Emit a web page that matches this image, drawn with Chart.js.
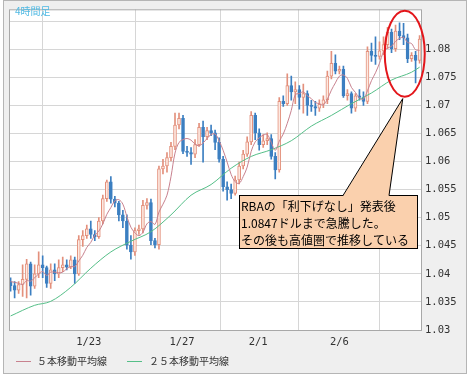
<!DOCTYPE html>
<html>
<head>
<meta charset="utf-8">
<script src="https://cdn.jsdelivr.net/npm/chart.js@4/dist/chart.umd.min.js"></script>
<style>
  html, body { margin: 0; padding: 0; background: #fff; }
  #wrap { width: 467px; height: 376px; }
</style>
</head>
<body>
<div id="wrap"><canvas id="c" width="467" height="376"></canvas></div>
<script>
/* ---------- Data (4-hour candles) ---------- */
var candleOpen = [
  1.0386,1.0379,1.0371,1.0381,1.0390,1.0418,1.0378,1.0400,1.0416,1.0411,
  1.0383,1.0407,1.0400,1.0411,1.0416,1.0412,1.0425,1.0400,1.0461,1.0468,
  1.0480,1.0470,1.0466,1.0494,1.0534,1.0564,1.0533,1.0526,1.0505,1.0494,
  1.0451,1.0439,1.0477,1.0480,1.0522,1.0527,1.0459,1.0452,1.0587,1.0592,
  1.0607,1.0627,1.0665,1.0677,1.0618,1.0616,1.0613,1.0630,1.0661,1.0644,
  1.0655,1.0651,1.0634,1.0604,1.0555,1.0550,1.0543,1.0567,1.0592,1.0613,
  1.0635,1.0682,1.0651,1.0630,1.0637,1.0641,1.0609,1.0585,1.0707,1.0703,
  1.0735,1.0724,1.0728,1.0714,1.0721,1.0700,1.0698,1.0695,1.0702,1.0710,
  1.0752,1.0775,1.0761,1.0764,1.0717,1.0721,1.0695,1.0717,1.0714,1.0707,
  1.0796,1.0789,1.0787,1.0797,1.0808,1.0830,1.0801,1.0832,1.0824,1.0820,
  1.0783,1.0789,1.0780
];
var candleClose = [
  1.0379,1.0371,1.0381,1.0390,1.0418,1.0378,1.0400,1.0416,1.0411,1.0383,
  1.0407,1.0400,1.0411,1.0416,1.0412,1.0425,1.0400,1.0461,1.0468,1.0480,
  1.0470,1.0466,1.0494,1.0534,1.0564,1.0533,1.0526,1.0505,1.0494,1.0451,
  1.0439,1.0477,1.0480,1.0522,1.0527,1.0459,1.0452,1.0587,1.0592,1.0607,
  1.0627,1.0665,1.0677,1.0618,1.0616,1.0613,1.0630,1.0661,1.0644,1.0655,
  1.0651,1.0634,1.0604,1.0555,1.0550,1.0543,1.0567,1.0592,1.0613,1.0635,
  1.0682,1.0651,1.0630,1.0637,1.0641,1.0609,1.0585,1.0707,1.0703,1.0735,
  1.0724,1.0728,1.0714,1.0721,1.0700,1.0698,1.0695,1.0702,1.0710,1.0752,
  1.0775,1.0761,1.0764,1.0717,1.0721,1.0695,1.0717,1.0714,1.0707,1.0796,
  1.0789,1.0787,1.0797,1.0808,1.0830,1.0801,1.0832,1.0824,1.0820,1.0783,
  1.0789,1.0780,1.0818
];
var candleHigh = [
  1.0393,1.0386,1.0386,1.0416,1.0426,1.0421,1.0416,1.0439,1.0432,1.0414,
  1.0418,1.0418,1.0425,1.0430,1.0425,1.0432,1.0430,1.0468,1.0477,1.0487,
  1.0494,1.0477,1.0500,1.0540,1.0567,1.0573,1.0538,1.0529,1.0513,1.0505,
  1.0468,1.0482,1.0487,1.0531,1.0534,1.0533,1.0463,1.0592,1.0604,1.0616,
  1.0634,1.0686,1.0686,1.0682,1.0627,1.0625,1.0639,1.0668,1.0672,1.0661,
  1.0665,1.0656,1.0642,1.0609,1.0564,1.0560,1.0574,1.0599,1.0620,1.0644,
  1.0689,1.0686,1.0658,1.0648,1.0651,1.0648,1.0616,1.0714,1.0717,1.0756,
  1.0752,1.0742,1.0735,1.0738,1.0726,1.0709,1.0707,1.0710,1.0717,1.0761,
  1.0796,1.0790,1.0770,1.0770,1.0728,1.0724,1.0721,1.0728,1.0724,1.0804,
  1.0811,1.0822,1.0813,1.0822,1.0839,1.0836,1.0843,1.0847,1.0846,1.0827,
  1.0794,1.0796,1.0824
];
var candleLow = [
  1.0369,1.0357,1.0365,1.0360,1.0357,1.0362,1.0374,1.0393,1.0393,1.0376,
  1.0374,1.0388,1.0393,1.0404,1.0407,1.0409,1.0383,1.0397,1.0449,1.0463,
  1.0463,1.0459,1.0463,1.0489,1.0529,1.0526,1.0519,1.0494,1.0482,1.0444,
  1.0426,1.0433,1.0470,1.0473,1.0515,1.0452,1.0446,1.0444,1.0578,1.0581,
  1.0601,1.0621,1.0658,1.0614,1.0609,1.0595,1.0607,1.0627,1.0599,1.0639,
  1.0646,1.0621,1.0599,1.0547,1.0531,1.0534,1.0540,1.0560,1.0587,1.0609,
  1.0630,1.0639,1.0620,1.0625,1.0630,1.0604,1.0569,1.0581,1.0698,1.0700,
  1.0709,1.0703,1.0693,1.0686,1.0682,1.0689,1.0682,1.0689,1.0696,1.0703,
  1.0747,1.0756,1.0756,1.0714,1.0709,1.0686,1.0689,1.0709,1.0700,1.0703,
  1.0778,1.0773,1.0782,1.0790,1.0801,1.0794,1.0796,1.0817,1.0808,1.0776,
  1.0778,1.0740,1.0775
];
// 5-bar moving average, one value per candle
var ma5 = [
  1.0386,1.0385,1.0383,1.0381,1.0388,1.0387,1.0393,1.0400,1.0404,1.0397,
  1.0403,1.0403,1.0402,1.0403,1.0409,1.0413,1.0413,1.0423,1.0433,1.0447,
  1.0456,1.0469,1.0476,1.0489,1.0506,1.0518,1.0530,1.0532,1.0524,1.0502,
  1.0483,1.0473,1.0468,1.0474,1.0489,1.0493,1.0488,1.0510,1.0524,1.0540,
  1.0573,1.0615,1.0634,1.0639,1.0641,1.0638,1.0631,1.0628,1.0633,1.0641,
  1.0648,1.0649,1.0637,1.0620,1.0599,1.0577,1.0564,1.0561,1.0573,1.0590,
  1.0618,1.0635,1.0642,1.0647,1.0648,1.0634,1.0620,1.0636,1.0649,1.0668,
  1.0691,1.0719,1.0721,1.0724,1.0717,1.0712,1.0705,1.0703,1.0701,1.0711,
  1.0727,1.0740,1.0752,1.0754,1.0748,1.0732,1.0723,1.0713,1.0711,1.0726,
  1.0744,1.0758,1.0775,1.0795,1.0802,1.0805,1.0814,1.0819,1.0821,1.0812,
  1.0810,1.0799,1.0798
];
// 25-bar moving average, read at these candle indices
var ma25Idx = [0, 6, 10, 15, 20, 25, 30, 35, 40, 45, 50, 55, 60, 65, 70, 75, 80, 85, 90, 95, 100, 102];
var ma25 = [1.0325, 1.0344, 1.0351, 1.0376, 1.0410, 1.0439, 1.0458, 1.0475, 1.0505, 1.0540, 1.0559,
            1.0588, 1.0609, 1.0621, 1.0637, 1.0663, 1.0682, 1.0703, 1.0722, 1.0745, 1.0759, 1.0768];

var xTickPos = [19.5, 42.75, 61.75, 82];
var xTickLabels = ['1/23', '1/27', '2/1', '2/6'];

var seriesNames = ['５本移動平均線', '２５本移動平均線'];
var noteLines = ['RBAの「利下げなし」発表後', '1.0847ドルまで急騰した。', 'その後も高値圏で推移している'];

/* ---------- Colors ---------- */
var UP_LINE = '#e3907c', UP_FILL = '#fde9e1', DOWN = '#3c7fc1';
var MA5_COLOR = '#c8828f', MA25_COLOR = '#55bf88';
var JP = "'Noto Sans CJK JP', sans-serif";
var MONO = "'DejaVu Sans Mono', monospace";

function isUp(i) { return candleClose[i] >= candleOpen[i]; }

var wickData = candleOpen.map(function (o, i) { return { x: i, y: [candleLow[i], candleHigh[i]] }; });
var bodyData = candleOpen.map(function (o, i) { return { x: i, y: [o, candleClose[i]] }; });
var ma5Data = ma5.map(function (v, i) { return { x: i, y: v }; });
var ma25Data = ma25.map(function (v, k) { return { x: ma25Idx[k], y: v }; });

/* ---------- Drawing helpers (plugin) ---------- */
var decor = {
  id: 'decor',
  beforeDraw: function (chart) {
    var c = chart.ctx, a = chart.chartArea;
    c.save();
    c.fillStyle = '#ffffff';
    c.fillRect(0, 0, chart.width, chart.height);
    c.fillStyle = '#efefef';
    c.fillRect(3, 0, chart.width - 3, 374);
    c.strokeStyle = '#b5b5b5';
    c.lineWidth = 1;
    c.strokeRect(3.5, 0.5, chart.width - 4, 373);
    c.fillStyle = '#ffffff';
    c.fillRect(a.left, a.top, a.right - a.left, a.bottom - a.top);
    c.restore();
  },
  afterDraw: function (chart) {
    var c = chart.ctx, a = chart.chartArea;
    var xs = chart.scales.x, ys = chart.scales.y;
    c.save();
    // plot frame
    c.strokeStyle = '#a8a8a8';
    c.lineWidth = 1;
    c.strokeRect(a.left + 0.5, a.top + 0.5, a.right - a.left - 1, a.bottom - a.top);

    // title
    c.fillStyle = '#4fb9e3';
    c.font = '10px ' + JP;
    c.textBaseline = 'middle';
    c.fillText('4時間足', 15, 11);

    // red ellipse round the post-RBA candles
    c.strokeStyle = '#e3161b';
    c.lineWidth = 2;
    c.beginPath();
    c.ellipse(xs.getPixelForValue(98.3), ys.getPixelForValue(1.0792), 20, 43, 0, 0, Math.PI * 2);
    c.stroke();

    // callout box
    var bx = 239, by = 195, bw = 178, bh = 53;
    c.fillStyle = '#fad0ad';
    c.strokeStyle = '#000';
    c.lineWidth = 1;
    c.fillRect(bx, by, bw, bh);
    c.strokeRect(bx + 0.5, by + 0.5, bw, bh);
    // pointer
    var tipX = xs.getPixelForValue(97.8), tipY = ys.getPixelForValue(1.0712);
    c.beginPath();
    c.moveTo(343, by + 1);
    c.lineTo(tipX, tipY);
    c.lineTo(389, by + 1);
    c.closePath();
    c.fill();
    c.beginPath();
    c.moveTo(343, by + 0.5);
    c.lineTo(tipX, tipY);
    c.lineTo(389, by + 0.5);
    c.stroke();

    c.fillStyle = '#000';
    c.font = '12px ' + JP;
    c.textBaseline = 'middle';
    noteLines.forEach(function (t, k) { c.fillText(t, bx + 2, by + 11 + k * 17); });

    // legend
    var ly = 361;
    [[16, 37, MA5_COLOR], [127, 149, MA25_COLOR]].forEach(function (p, k) {
      c.strokeStyle = p[2];
      c.lineWidth = 1;
      c.beginPath();
      c.moveTo(p[0], ly + 0.5);
      c.lineTo(p[0] + 15, ly + 0.5);
      c.stroke();
      c.fillStyle = '#333';
      c.font = '10px ' + JP;
      c.fillText(seriesNames[k], p[1], ly);
    });
    c.restore();
  }
};

/* ---------- Chart ---------- */
new Chart(document.getElementById('c').getContext('2d'), {
  type: 'bar',
  data: {
    datasets: [
      { type: 'line', label: seriesNames[0], data: ma5Data, borderColor: MA5_COLOR, borderWidth: 1,
        pointRadius: 0, tension: 0.35, order: 0 },
      { type: 'line', label: seriesNames[1], data: ma25Data, borderColor: MA25_COLOR, borderWidth: 1,
        pointRadius: 0, cubicInterpolationMode: 'monotone', order: 1 },
      { label: 'body', data: bodyData, grouped: false, barThickness: 3, borderWidth: 1, borderSkipped: false,
        backgroundColor: function (ctx) { return isUp(ctx.dataIndex) ? UP_FILL : DOWN; },
        borderColor: function (ctx) { return isUp(ctx.dataIndex) ? UP_LINE : DOWN; }, order: 2 },
      { label: 'wick', data: wickData, grouped: false, barThickness: 1, borderWidth: 0,
        backgroundColor: function (ctx) { return isUp(ctx.dataIndex) ? UP_LINE : DOWN; }, order: 3 }
    ]
  },
  options: {
    responsive: false,
    animation: false,
    layout: { padding: { left: 9, top: 2, right: 0, bottom: 26 } },
    plugins: { legend: { display: false }, tooltip: { enabled: false } },
    scales: {
      x: {
        type: 'linear', min: -0.4, max: 102.6, offset: false,
        grid: { color: '#d6d6d6', drawTicks: false },
        border: { display: false },
        afterBuildTicks: function (s) { s.ticks = xTickPos.map(function (v) { return { value: v }; }); },
        afterFit: function (s) { s.height = 20; },
        ticks: {
          autoSkip: false, maxRotation: 0, padding: 6, color: '#333',
          font: { family: MONO, size: 10.5 },
          callback: function (v) { var k = xTickPos.indexOf(v); return k < 0 ? '' : xTickLabels[k]; }
        }
      },
      y: {
        position: 'right', min: 1.03, max: 1.0871,
        grid: { color: '#d6d6d6', drawTicks: false },
        border: { display: false },
        afterFit: function (s) { s.width = 45; },
        ticks: {
          stepSize: 0.005, includeBounds: false, padding: 3, color: '#333',
          font: { family: MONO, size: 10.5 },
          callback: function (v) { return v > 1.0801 ? '' : String(parseFloat(v.toFixed(3))); }
        }
      }
    }
  },
  plugins: [decor]
});
</script>
</body>
</html>
